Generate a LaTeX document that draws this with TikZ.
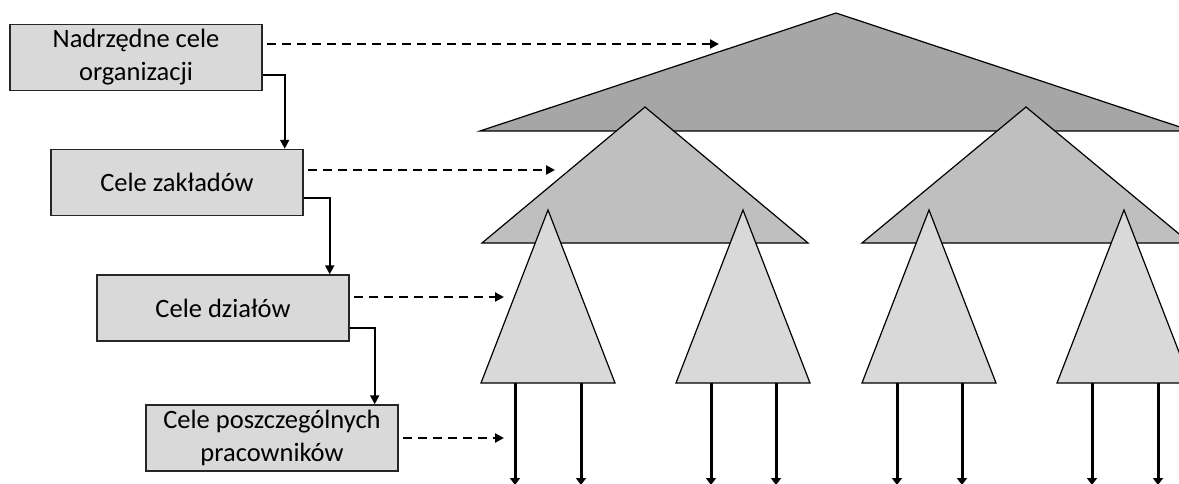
\documentclass[tikz,border=0pt]{standalone}
\usepackage{fontspec}
\setmainfont{Carlito}
\usetikzlibrary{arrows.meta}

\definecolor{topfill}{HTML}{A6A6A6}
\definecolor{midfill}{HTML}{BFBFBF}
\definecolor{lowfill}{HTML}{D9D9D9}

\tikzset{
  goalbox/.style={draw=black!85, fill=lowfill, line width=1.4pt,
    minimum width=252pt, minimum height=66pt, inner sep=0pt,
    align=center, font=\fontsize{26.5}{33}\selectfont},
  flow/.style={line width=2pt, -{Triangle[length=9pt,width=9pt]}},
  maps/.style={line width=2.2pt, dash pattern=on 9pt off 6pt,
    -{Triangle[length=9pt,width=9pt]}},
  tri/.style={draw=black, line width=1.2pt, line join=miter},
  down/.style={line width=3pt, -{Triangle[length=7pt,width=10pt]}}
}

\begin{document}
\begin{tikzpicture}[x=1pt,y=-1pt]
\useasboundingbox (0,0) rectangle (1179,484);
\clip (0,0) rectangle (1179,484);

% hierarchy of goals (pyramids)
\path[tri, fill=topfill] (836,13) -- (1192,131) -- (480,131) -- cycle;
\path[tri, fill=midfill] (645,107) -- (808,243) -- (482,243) -- cycle;
\path[tri, fill=midfill] (1026,107) -- (1190,243) -- (862,243) -- cycle;
\foreach \ax/\bl/\br in {548/481/615, 743/676/810, 929/862/996, 1124/1057/1191}{
  \path[tri, fill=lowfill] (\ax,210) -- (\br,383) -- (\bl,383) -- cycle;
}

% individual goal arrows
\foreach \x/\n in {515/a,581/b,711/c,776/d,897/e,962/f,1092/g,1158/h}{
  \coordinate (top\n) at (\x,383);
  \coordinate (end\n) at (\x,485);
  \draw[down] (top\n) -- (end\n);
}

% goal boxes
\node[goalbox] (b1) at (136,57.5) {Nadrzędne cele\\organizacji};
\node[goalbox] (b2) at (177,182.5) {Cele zakładów};
\node[goalbox] (b3) at (223,308) {Cele działów};
\node[goalbox] (b4) at (272,438) {Cele poszczególnych\\pracowników};

% cascade between boxes
\draw[flow] ([yshift=-17.5pt]b1.east) -| ([xshift=-19pt]b2.north east);
\draw[flow] ([yshift=-15.5pt]b2.east) -| ([xshift=-20pt]b3.north east);
\draw[flow] ([yshift=-20pt]b3.east) -| ([xshift=-24pt]b4.north east);

% links to the pyramid levels
\coordinate (t1) at (719,44);
\coordinate (t2) at (555,170);
\coordinate (t3) at (504,297);
\coordinate (t4) at (504,438);
\draw[maps] ([yshift=13.5pt]b1.east) ++(4,0) -- (t1);
\draw[maps] ([yshift=12.5pt]b2.east) ++(4,0) -- (t2);
\draw[maps] ([yshift=11pt]b3.east) ++(4,0) -- (t3);
\draw[maps] (b4.east) ++(4,0) -- (t4);
\end{tikzpicture}
\end{document}
